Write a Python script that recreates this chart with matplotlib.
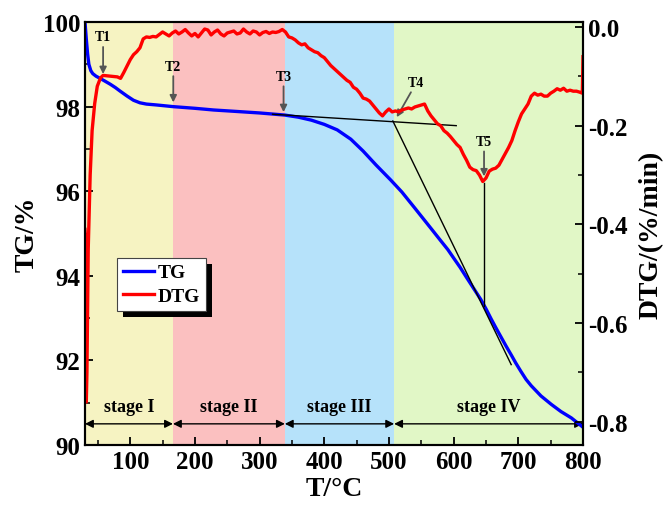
import matplotlib
matplotlib.use("Agg")
import matplotlib.pyplot as plt
from matplotlib.patches import Rectangle
from matplotlib.ticker import MultipleLocator, FormatStrFormatter

plt.rcParams["font.family"] = ["Liberation Serif", "DejaVu Serif"]
plt.rcParams["font.weight"] = "bold"
plt.rcParams["axes.unicode_minus"] = False

# TG curve (weight %)
tg_temp = [30, 32, 34, 36, 39, 42, 47, 53, 60, 69, 77, 84, 95, 105, 115, 125, 140,
           166, 200, 229, 260, 300, 339, 360, 380, 400, 420, 441, 460, 480, 503,
           520, 540, 565, 580, 591, 600, 610, 620, 631, 642, 650, 658, 665, 673,
           681, 689, 696, 704, 712, 720, 735, 751, 766, 782, 800]
tg_val = [100.0, 99.6, 99.25, 99.0, 98.85, 98.78, 98.72, 98.67, 98.61, 98.53, 98.45,
          98.37, 98.25, 98.15, 98.09, 98.06, 98.04, 98.0, 97.96, 97.92, 97.89, 97.85,
          97.8, 97.75, 97.68, 97.58, 97.45, 97.23, 96.95, 96.62, 96.26, 95.98, 95.6,
          95.12, 94.83, 94.62, 94.42, 94.2, 93.96, 93.7, 93.44, 93.22, 92.98, 92.78,
          92.56, 92.34, 92.13, 91.94, 91.74, 91.55, 91.4, 91.16, 90.96, 90.79,
          90.64, 90.42]

# DTG curve (%/min)
dtg_temp = [30, 31, 32, 33, 35, 38, 41, 45, 49, 54, 58, 65, 72, 80, 85, 90, 95, 100,
            105, 110, 115, 120, 125, 130, 135, 140, 145, 150, 155, 160, 165, 170,
            175, 180, 185, 190, 195, 200, 205, 210, 215, 220, 225, 230, 235, 240,
            245, 250, 255, 260, 265, 270, 275, 280, 285, 290, 295, 300, 305, 310,
            315, 320, 325, 330, 335, 340, 345, 350, 355, 360, 365, 370, 375, 380,
            385, 390, 395, 400, 405, 410, 415, 420, 425, 430, 435, 440, 445, 450,
            455, 460, 465, 470, 475, 480, 485, 490, 495, 500, 505, 510, 515, 520,
            525, 530, 535, 540, 545, 550, 555, 560, 565, 570, 575, 580, 585, 590,
            595, 600, 605, 610, 615, 620, 625, 630, 635, 640, 645, 650, 655, 660,
            665, 670, 675, 680, 685, 690, 695, 700, 705, 710, 715, 720, 725, 730,
            735, 740, 745, 750, 755, 760, 765, 770, 775, 780, 785, 790, 795, 799, 800]
dtg_val = [-0.41, -0.43, -0.76, -0.70, -0.45, -0.30, -0.21, -0.155, -0.12, -0.103,
           -0.098, -0.099, -0.100, -0.101, -0.104, -0.092, -0.079, -0.066, -0.056,
           -0.050, -0.042, -0.024, -0.020, -0.021, -0.019, -0.020, -0.015, -0.010,
           -0.014, -0.018, -0.012, -0.008, -0.014, -0.010, -0.005, -0.012, -0.018,
           -0.013, -0.020, -0.012, -0.004, -0.006, -0.016, -0.010, -0.006, -0.014,
           -0.018, -0.012, -0.010, -0.008, -0.014, -0.012, -0.004, -0.010, -0.014,
           -0.008, -0.010, -0.016, -0.011, -0.009, -0.013, -0.010, -0.011, -0.009,
           -0.005, -0.010, -0.020, -0.022, -0.026, -0.032, -0.036, -0.034, -0.042,
           -0.046, -0.050, -0.052, -0.058, -0.062, -0.070, -0.078, -0.084, -0.090,
           -0.096, -0.102, -0.108, -0.112, -0.122, -0.126, -0.134, -0.144, -0.146,
           -0.150, -0.158, -0.166, -0.174, -0.180, -0.172, -0.166, -0.172, -0.170,
           -0.172, -0.168, -0.166, -0.164, -0.166, -0.162, -0.160, -0.158, -0.156,
           -0.170, -0.180, -0.188, -0.196, -0.200, -0.210, -0.215, -0.222, -0.230,
           -0.238, -0.244, -0.258, -0.270, -0.284, -0.289, -0.291, -0.300, -0.313,
           -0.306, -0.292, -0.288, -0.286, -0.280, -0.268, -0.256, -0.244, -0.230,
           -0.210, -0.192, -0.176, -0.166, -0.156, -0.140, -0.134, -0.138, -0.136,
           -0.140, -0.140, -0.134, -0.130, -0.125, -0.128, -0.124, -0.130, -0.128,
           -0.130, -0.130, -0.132, -0.134, -0.060]

# stages
stage_edges = [30, 166, 339, 508, 800]
stage_names = ["stage I", "stage II", "stage III", "stage IV"]
stage_colors = ["#F6F3C2", "#FBC0C0", "#B6E2FA", "#E1F7C6"]

# characteristic temperatures: (label, tip x, tip y, tail x, tail y)
marks = [("T1", 58, 98.77, 58, 99.41),
         ("T2", 166.5, 98.10, 166.5, 98.72),
         ("T3", 337, 97.87, 337, 98.48),
         ("T4", 512, 97.75, 534, 98.34),
         ("T5", 647, 96.35, 647, 96.94)]

# tangent construction lines (TG axis units)
tangent_x = [[320, 604], [506, 689], [647, 647]]
tangent_y = [[97.82, 97.55], [97.66, 91.9], [96.2, 93.28]]

fig = plt.figure(figsize=(6.64, 5.06), dpi=100)
ax = fig.add_axes([0.128, 0.1186, 0.75, 0.8359])
ax2 = ax.twinx()

for i in range(4):
    ax.axvspan(stage_edges[i], stage_edges[i + 1], color=stage_colors[i], lw=0, zorder=0)
    mid = (stage_edges[i] + stage_edges[i + 1]) / 2
    ax.text(mid, 90.92, stage_names[i], ha="center", va="center", fontsize=13,
            fontweight="bold")
    ax.annotate("", xy=(stage_edges[i], 90.5), xytext=(stage_edges[i + 1], 90.5),
                arrowprops=dict(arrowstyle="<|-|>", color="black", lw=1.0,
                                mutation_scale=12, shrinkA=0, shrinkB=0))

ln1, = ax.plot(tg_temp, tg_val, color="#0000FF", lw=2.4, label="TG", zorder=3)
for xs, ys in zip(tangent_x, tangent_y):
    ax.plot(xs, ys, color="black", lw=1.0, zorder=4)

for name, x1, y1, x0, y0 in marks:
    ax.annotate("", xy=(x1, y1), xytext=(x0, y0),
                arrowprops=dict(arrowstyle="-|>", color="#555555", lw=1.3,
                                mutation_scale=10, shrinkA=0, shrinkB=0), zorder=5)
    dx = 8 if name == "T4" else 0
    ax.text(x0 + dx, y0 + 0.24, name, ha="center", va="center", fontsize=10,
            fontweight="bold", zorder=5)

ln2, = ax2.plot(dtg_temp, dtg_val, color="#FF0000", lw=2.4, label="DTG")

ax.set_xlim(30, 800)
ax.set_ylim(90, 100)
ax2.set_ylim(-0.847, 0.0102)

ax.xaxis.set_major_locator(MultipleLocator(100))
ax.xaxis.set_minor_locator(MultipleLocator(50))
ax.yaxis.set_major_locator(MultipleLocator(2))
ax.yaxis.set_minor_locator(MultipleLocator(1))
ax2.yaxis.set_major_locator(MultipleLocator(0.2))
ax2.yaxis.set_minor_locator(MultipleLocator(0.1))
ax2.yaxis.set_major_formatter(FormatStrFormatter("%.1f"))

for a in (ax, ax2):
    a.tick_params(which="major", direction="in", length=6, width=1.3, labelsize=18)
    a.tick_params(which="minor", direction="in", length=3.5, width=1.1)
    for s in a.spines.values():
        s.set_linewidth(1.5)
ax.tick_params(axis="both", which="both", top=False, right=False)
for lab in ax.get_xticklabels() + ax.get_yticklabels() + ax2.get_yticklabels():
    lab.set_fontweight("bold")

ax.set_xlabel("T/°C", fontsize=20, fontweight="bold", labelpad=2)
ax.set_ylabel("TG/%", fontsize=20, fontweight="bold", labelpad=2)
ax2.set_ylabel("DTG/(%/min)", fontsize=20, fontweight="bold", labelpad=8)

leg = ax2.legend(handles=[ln1, ln2], loc="upper left", bbox_to_anchor=(0.064, 0.442),
                 borderaxespad=0, fontsize=14, fancybox=False, framealpha=1,
                 edgecolor="#444444", handlelength=1.6, handletextpad=0.2,
                 labelspacing=0.3, borderpad=0.3)
leg.get_frame().set_linewidth(0.8)
leg.set_zorder(6)

fig.canvas.draw()
bb = leg.get_window_extent()
shadow = Rectangle((bb.x0 + 6, bb.y0 - 6), bb.width, bb.height, transform=None,
                   facecolor="black", edgecolor="none", clip_on=False, zorder=5.5)
ax2.add_artist(shadow)

fig.savefig("out.png", dpi=100)
